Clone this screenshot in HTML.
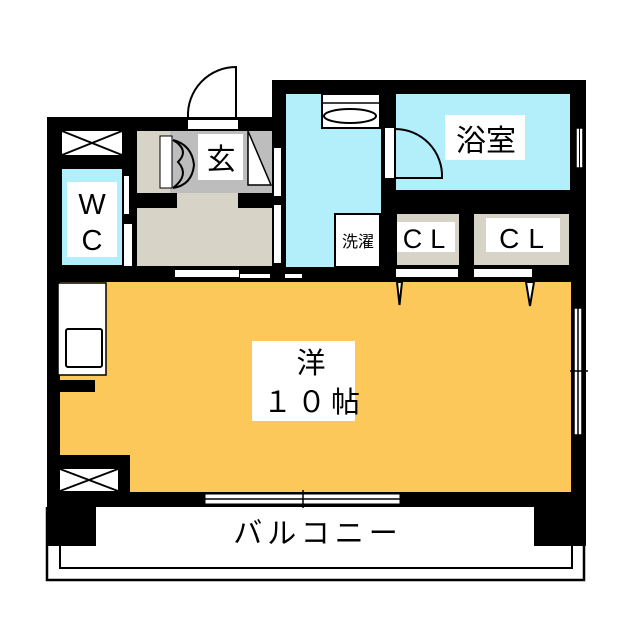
<!DOCTYPE html>
<html><head><meta charset="utf-8"><style>
html,body{margin:0;padding:0;background:#fff;}
svg{display:block;}
text{font-family:"Liberation Sans","Noto Sans CJK JP",sans-serif;fill:#000;}
</style></head><body>
<svg width="640" height="640" viewBox="0 0 640 640" xmlns="http://www.w3.org/2000/svg">
<path d="M47 507 V580 H584 V507" fill="none" stroke="#000" stroke-width="2.5"/>
<path d="M60 545 V568 H572 V545" fill="none" stroke="#000" stroke-width="2"/>
<text x="318" y="543" font-size="29" text-anchor="middle" letter-spacing="5">バルコニー</text>

<rect x="47" y="117" width="226" height="390" fill="#000"/>
<rect x="272" y="80" width="314" height="427" fill="#000"/>
<rect x="47" y="505" width="49" height="41" fill="#000"/>
<rect x="534" y="505" width="52" height="41" fill="#000"/>

<rect x="60" y="282" width="511" height="210" fill="#FCC85A"/>
<rect x="60" y="455" width="70" height="39" fill="#000"/>
<rect x="60" y="380" width="35" height="12" fill="#000"/>
<rect x="58" y="283" width="48" height="92" fill="#fff" stroke="#000" stroke-width="1.5"/>
<rect x="66" y="329" width="36" height="38" rx="2" fill="#fff" stroke="#000" stroke-width="2"/>
<rect x="60" y="469" width="58" height="22" fill="#fff"/>
<path d="M60 469 L118 491 M60 491 L118 469" stroke="#000" stroke-width="2"/>

<rect x="62" y="131" width="60" height="24" fill="#fff"/>
<path d="M62 131 L122 155 M62 155 L122 131" stroke="#000" stroke-width="2"/>
<rect x="62" y="169" width="60" height="96" fill="#B3EEFB"/>
<rect x="67" y="182" width="50" height="75" fill="#fff"/>
<text x="92" y="214" font-size="29" text-anchor="middle">W</text>
<text x="92" y="250" font-size="29" text-anchor="middle">C</text>
<rect x="124" y="176" width="5" height="38" fill="#fff"/>
<rect x="124" y="224" width="8" height="42" fill="#fff"/>

<rect x="137" y="131" width="135" height="135" fill="#D7D3C6"/>
<rect x="170" y="131" width="102" height="62" fill="#BDBDBD"/>
<rect x="137" y="193" width="40" height="15" fill="#000"/>
<rect x="238" y="193" width="34" height="15" fill="#000"/>
<rect x="160" y="136" width="12" height="52" fill="#fff" stroke="#000" stroke-width="1"/>
<path d="M173 140 Q192 145 194 165 Q192 185 173 188 M173 140 Q190 150 178 162 Q190 175 173 188" fill="none" stroke="#000" stroke-width="2"/>
<rect x="198" y="134" width="45" height="46" fill="#fff"/>
<text x="221" y="169" font-size="29" text-anchor="middle">玄</text>
<path d="M248 131 L271 185 H248 Z" fill="#fff" stroke="#000" stroke-width="1.5"/>
<rect x="188" y="120" width="50" height="9" fill="#fff"/>
<path d="M188 117 A48 48 0 0 1 236 67 V117" fill="none" stroke="#000" stroke-width="2"/>
<rect x="274" y="148" width="7" height="48" fill="#fff"/>
<rect x="274" y="205" width="7" height="58" fill="#fff"/>
<rect x="175" y="270" width="64" height="7" fill="#fff"/>
<rect x="240" y="274" width="30" height="4" fill="#fff"/>
<rect x="285" y="274" width="17" height="4" fill="#fff"/>

<rect x="286" y="94" width="95" height="173" fill="#B3EEFB"/>
<rect x="322" y="94" width="58" height="34" fill="#fff" stroke="#000" stroke-width="2"/>
<ellipse cx="350" cy="116" rx="26" ry="7" fill="#fff" stroke="#000" stroke-width="2"/>
<path d="M322 103 H380" stroke="#000" stroke-width="1.5"/>
<rect x="335" y="214" width="45" height="53" fill="#fff" stroke="#000" stroke-width="2"/>
<text x="358" y="247" font-size="16" text-anchor="middle">洗濯</text>

<rect x="396" y="94" width="174" height="96" fill="#B3EEFB"/>
<rect x="445" y="115" width="80" height="45" fill="#fff"/>
<text x="486" y="151" font-size="30" text-anchor="middle">浴室</text>
<rect x="385" y="128" width="9" height="50" fill="#fff"/>
<path d="M395 129 A47 47 0 0 1 442 178 H395" fill="none" stroke="#000" stroke-width="2"/>
<rect x="576" y="128" width="7" height="40" fill="#fff" stroke="#000" stroke-width="1.5"/>
<path d="M579.5 128 V168" stroke="#000" stroke-width="1"/>

<rect x="397" y="214" width="62" height="51" fill="#D7D3C6"/>
<rect x="397" y="222" width="58" height="30" fill="#fff"/>
<text x="428" y="248" font-size="27" text-anchor="middle" letter-spacing="8">CL</text>
<rect x="474" y="214" width="95" height="51" fill="#D7D3C6"/>
<rect x="486" y="218" width="74" height="34" fill="#fff"/>
<text x="526" y="248" font-size="28" text-anchor="middle" letter-spacing="9">CL</text>
<rect x="396" y="269" width="62" height="8" fill="#fff"/>
<rect x="474" y="269" width="58" height="8" fill="#fff"/>
<path d="M397 282 L402 282 L399.5 305 Z" fill="#fff" stroke="#000" stroke-width="2"/>
<path d="M526 282 L534 282 L530 306 Z" fill="#fff" stroke="#000" stroke-width="2"/>

<rect x="574" y="308" width="8" height="127" fill="#fff" stroke="#000" stroke-width="1.5"/>
<path d="M578 308 V435 M570 371 H588" stroke="#000" stroke-width="1.5"/>
<rect x="205" y="494" width="195" height="10" fill="#fff" stroke="#000" stroke-width="1"/>
<path d="M205 499 H400 M303 490 V508" stroke="#000" stroke-width="1.5"/>

<rect x="252" y="341" width="103" height="80" fill="#fff"/>
<text x="311" y="373" font-size="29" text-anchor="middle">洋</text>
<text x="314" y="412" font-size="29" text-anchor="middle" letter-spacing="5">１０帖</text>
</svg>
</body></html>
